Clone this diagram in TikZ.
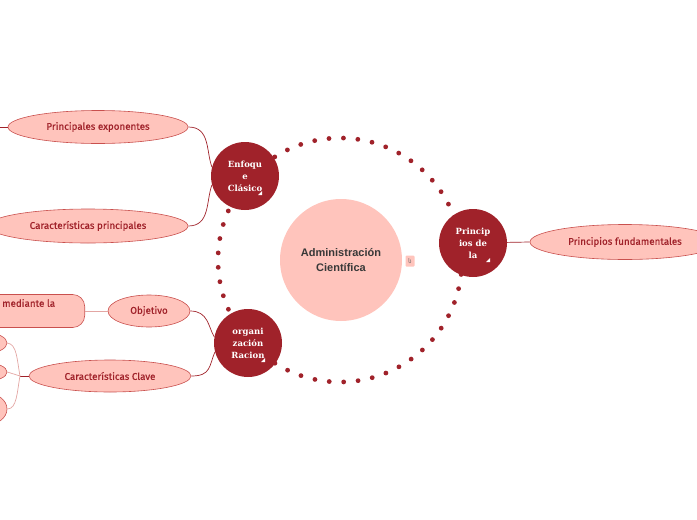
\documentclass[tikz,border=0pt]{standalone}
\usepackage{fontspec}
\usepackage{tikz}
\usetikzlibrary{shapes.geometric}
\setmainfont{Fira Sans}
\newfontfamily\topicfont{Fira Sans}[FakeBold=0.5]
\newfontfamily\titlefont{Liberation Sans}
\newfontfamily\bubblefont{DejaVu Serif}
\newfontfamily\iconfont{DejaVu Sans}
\definecolor{wine}{HTML}{A0222A}
\definecolor{blush}{HTML}{FFC4BC}
\definecolor{rim}{HTML}{C9504E}
\definecolor{thread}{HTML}{E3A6A3}

\begin{document}
\begin{tikzpicture}[x=1pt, y=-1pt,
    topic/.style={ellipse, draw=rim, fill=blush, line width=0.6pt, text=wine,
        font=\topicfont\fontsize{9.8}{11}\selectfont, inner sep=0pt},
    hub/.style={circle, fill=wine, minimum size=68pt, inner sep=0pt, text=white,
        font=\bubblefont\bfseries\fontsize{8.5}{12}\selectfont, align=center},
    link/.style={wine, line width=0.7pt},
    softlink/.style={thread, line width=0.7pt}]

    \useasboundingbox (0,0) rectangle (697,520);
    \clip (0,0) rectangle (697,520);

    % Dotted ring
    \draw[wine, line width=4.8pt, line cap=round, dash pattern=on 0pt off 14.46pt]
        (340,260) circle[radius=122];

    % Central topic
    \node[circle, fill=blush, minimum size=122pt, inner sep=0pt, text=black!78,
        font=\titlefont\bfseries\fontsize{11}{15}\selectfont, align=center]
        (core) at (341,260) {Administración\\Científica};
    \node[fill=blush, rounded corners=1pt, minimum width=9pt, minimum height=11pt,
        inner sep=0pt, text=black!60, font=\iconfont\fontsize{6}{6}\selectfont]
        (note) at (410,261) {ს};

    % Main branches
    \node[hub] (enfoque) at (245,176) {Enfoqu\\e\\Clásico};
    \node[hub] (principios) at (473,243) {Princip\\ios de\\la};
    \node[hub] (organizacion) at (248,343) {organi\\zación\\Racion};

    \foreach \hubname in {enfoque, principios, organizacion}
        \fill[white] (\hubname.center) ++(17,19) -- ++(-4,0) -- ++(4,-4) -- cycle;

    % Subtopics
    \node[topic, minimum width=180pt, minimum height=33pt] (exponentes) at (98,127) {Principales exponentes};
    \node[topic, minimum width=200pt, minimum height=34pt] (caracteristicas) at (88,226) {Características principales};
    \node[topic, minimum width=190pt, minimum height=35pt] (fundamentales) at (625,242) {Principios fundamentales};
    \node[topic, minimum width=82pt, minimum height=32pt] (objetivo) at (149,311) {Objetivo};
    \node[topic, minimum width=162pt, minimum height=32pt] (clave) at (110,376) {Características Clave};

    \node[draw=rim, fill=blush, rounded corners=12pt, line width=0.6pt,
        minimum width=235pt, minimum height=33pt, anchor=east] (mediante) at (85,311) {};
    \node[anchor=west, text=wine, inner sep=0pt, font=\topicfont\fontsize{9.8}{11}\selectfont]
        (medianteTxt) at (2,303) {mediante la};

    \node[topic, minimum width=40pt, minimum height=20pt] (leafa) at (-13,343) {};
    \node[topic, minimum width=40pt, minimum height=18pt] (leafb) at (-13,372) {};
    \node[topic, minimum width=42pt, minimum height=32pt] (leafc) at (-14,409) {};

    \coordinate (fork) at (20,376);
    \coordinate (offleft) at (-5,127);

    % Connectors
    \draw[link] (offleft) -- (exponentes.west);
    \draw[link] (exponentes.east) .. controls +(22,0) and +(-6,-16) .. (enfoque.165);
    \draw[link] (caracteristicas.east) .. controls +(22,0) and +(-6,16) .. (enfoque.195);
    \draw[link] (principios) -- (fundamentales.west);
    \draw[link] (objetivo.east) .. controls +(18,0) and +(-6,-10) .. (organizacion.170);
    \draw[link] (clave.east) .. controls +(20,0) and +(-6,14) .. (organizacion.195);
    \draw[softlink] (mediante.east) -- (objetivo.west);
    \draw[link] (clave.west) -- (fork);
    \draw[softlink] (fork) .. controls (17,360) and (17,344) .. (leafa.east);
    \draw[softlink] (fork) -- (leafb.east);
    \draw[softlink] (fork) .. controls (17,392) and (17,409) .. (leafc.east);

\end{tikzpicture}
\end{document}
